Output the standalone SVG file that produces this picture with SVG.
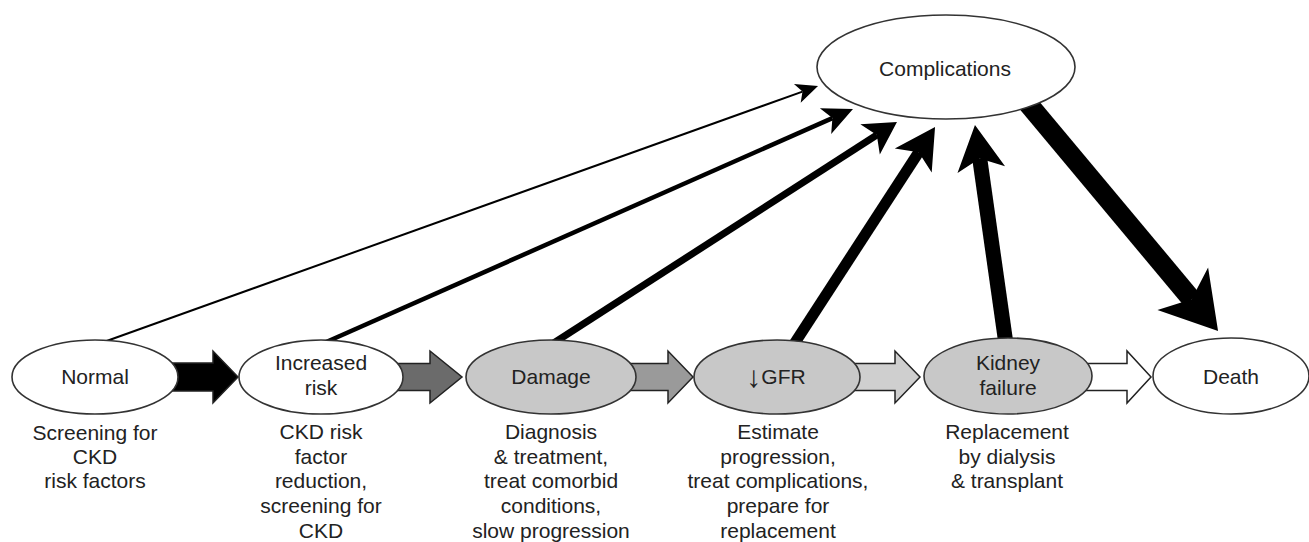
<svg xmlns="http://www.w3.org/2000/svg" width="1309" height="542" viewBox="0 0 1309 542">
<style>
text{font-family:"Liberation Sans",Arial,sans-serif;font-size:21px;fill:#222;text-anchor:middle}
.node{stroke:#333;stroke-width:1.6}
.white{fill:#fff}
.gray{fill:#c8c8c8}
.link{stroke:#000;fill:none;stroke-linecap:butt}
.blk{stroke:#222;stroke-width:1.5;stroke-linejoin:miter}
.head{fill:#000}
.arr{font-size:30px}
</style>
<defs>
<marker id="m1" markerUnits="userSpaceOnUse" orient="auto" refX="5.5" refY="0" markerWidth="30" markerHeight="30" overflow="visible"><path class="head" d="M22,0 L0,-10 L5.5,0 L0,10 Z"/></marker>
<marker id="m2" markerUnits="userSpaceOnUse" orient="auto" refX="7.5" refY="0" markerWidth="40" markerHeight="40" overflow="visible"><path class="head" d="M30,0 L0,-14 L7.5,0 L0,14 Z"/></marker>
<marker id="m3" markerUnits="userSpaceOnUse" orient="auto" refX="8" refY="0" markerWidth="40" markerHeight="40" overflow="visible"><path class="head" d="M32,0 L0,-18 L8,0 L0,18 Z"/></marker>
<marker id="m4" markerUnits="userSpaceOnUse" orient="auto" refX="10" refY="0" markerWidth="50" markerHeight="50" overflow="visible"><path class="head" d="M40,0 L0,-22 L10,0 L0,22 Z"/></marker>
<marker id="m5" markerUnits="userSpaceOnUse" orient="auto" refX="11.25" refY="0" markerWidth="50" markerHeight="50" overflow="visible"><path class="head" d="M45,0 L0,-24 L11.25,0 L0,24 Z"/></marker>
<marker id="m6" markerUnits="userSpaceOnUse" orient="auto" refX="13.75" refY="0" markerWidth="70" markerHeight="70" overflow="visible"><path class="head" d="M55,0 L0,-33 L13.75,0 L0,33 Z"/></marker>
</defs>
<rect width="1309" height="542" fill="#fff"/>
<g id="connectors">
<line class="link" x1="104.5" y1="341.7" x2="802.5" y2="91.6" stroke-width="2" marker-end="url(#m1)"/>
<line class="link" x1="325.7" y1="342.2" x2="832.4" y2="118.1" stroke-width="4.5" marker-end="url(#m2)"/>
<line class="link" x1="553.3" y1="343.3" x2="876.8" y2="135" stroke-width="7" marker-end="url(#m3)"/>
<line class="link" x1="793.6" y1="344.7" x2="918.7" y2="152.2" stroke-width="11" marker-end="url(#m4)"/>
<line class="link" x1="1006.1" y1="344.9" x2="979.7" y2="158.4" stroke-width="15" marker-end="url(#m5)"/>
<line class="link" x1="1024.9" y1="99.9" x2="1191.6" y2="299.3" stroke-width="20" marker-end="url(#m6)"/>
<polygon class="blk" fill="#000" points="170,363 213,363 213,351 238,377 213,403 213,391 170,391"/>
<polygon class="blk" fill="#6b6b6b" points="395,363.5 430,363.5 430,351 462,377 430,403 430,390.5 395,390.5"/>
<polygon class="blk" fill="#9a9a9a" points="628,363.5 668,363.5 668,351 693,377 668,403 668,390.5 628,390.5"/>
<polygon class="blk" fill="#cfcfcf" points="852,363.5 895,363.5 895,351 920,377 895,403 895,390.5 852,390.5"/>
<polygon class="blk" fill="#fff" points="1084,363.5 1127,363.5 1127,351 1151,377 1127,403 1127,390.5 1084,390.5"/>
</g>
<g id="node-complications">
<ellipse class="node white" cx="946" cy="67" rx="129" ry="52"/>
<text x="945" y="76">Complications</text>
</g>
<g id="node-normal">
<ellipse class="node white" cx="95" cy="377" rx="83" ry="37"/>
<text x="95" y="384">Normal</text>
<text x="95" y="440">Screening for</text>
<text x="95" y="464">CKD</text>
<text x="95" y="488">risk factors</text>
</g>
<g id="node-increased-risk">
<ellipse class="node white" cx="321" cy="377" rx="82" ry="37"/>
<text x="321" y="370">Increased</text>
<text x="321" y="395">risk</text>
<text x="321" y="439">CKD risk</text>
<text x="321" y="464">factor</text>
<text x="321" y="488">reduction,</text>
<text x="321" y="513">screening for</text>
<text x="321" y="538">CKD</text>
</g>
<g id="node-damage">
<ellipse class="node gray" cx="551" cy="377" rx="85" ry="37"/>
<text x="551" y="384">Damage</text>
<text x="551" y="439">Diagnosis</text>
<text x="551" y="464">&amp; treatment,</text>
<text x="551" y="488">treat comorbid</text>
<text x="551" y="513">conditions,</text>
<text x="551" y="538">slow progression</text>
</g>
<g id="node-gfr">
<ellipse class="node gray" cx="777" cy="377" rx="83" ry="37"/>
<text x="776" y="384"><tspan class="arr" dy="3">↓</tspan><tspan dy="-3">GFR</tspan></text>
<text x="778" y="439">Estimate</text>
<text x="778" y="464">progression,</text>
<text x="778" y="488">treat complications,</text>
<text x="778" y="513">prepare for</text>
<text x="778" y="538">replacement</text>
</g>
<g id="node-kidney-failure">
<ellipse class="node gray" cx="1008" cy="376" rx="84" ry="38"/>
<text x="1008" y="370">Kidney</text>
<text x="1008" y="395">failure</text>
<text x="1007" y="439">Replacement</text>
<text x="1007" y="464">by dialysis</text>
<text x="1007" y="488">&amp; transplant</text>
</g>
<g id="node-death">
<ellipse class="node white" cx="1231" cy="376" rx="78" ry="38"/>
<text x="1231" y="384">Death</text>
</g>
</svg>
